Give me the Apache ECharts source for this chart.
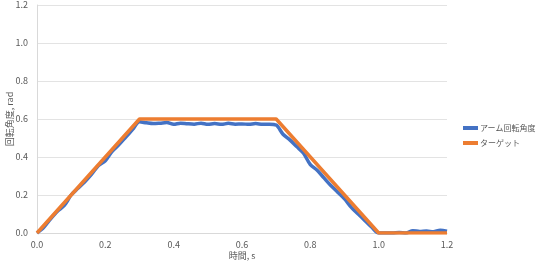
<!DOCTYPE html>
<html><head><meta charset="utf-8">
<script src="https://cdn.jsdelivr.net/npm/echarts@6/dist/echarts.min.js"></script>
<style>html,body{margin:0;padding:0;background:#fff}#c{width:540px;height:265px}</style>
</head><body><div id="c"></div>
<script>
const timeS = [0,0.02,0.04,0.06,0.08,0.10,0.12,0.14,0.16,0.18,0.20,0.22,0.24,0.26,0.28,0.30,0.32,0.34,0.36,0.38,0.40,0.42,0.44,0.46,0.48,0.50,0.52,0.54,0.56,0.58,0.60,0.62,0.64,0.66,0.68,0.70,0.72,0.74,0.76,0.78,0.80,0.82,0.84,0.86,0.88,0.90,0.92,0.94,0.96,0.98,1.00,1.02,1.04,1.06,1.08,1.10,1.12,1.14,1.16,1.18,1.20];
const armAngle = [0.00,0.03,0.075,0.115,0.145,0.20,0.235,0.27,0.31,0.355,0.38,0.43,0.465,0.505,0.545,0.585,0.58,0.576,0.578,0.581,0.572,0.578,0.575,0.573,0.578,0.572,0.576,0.572,0.577,0.573,0.574,0.572,0.576,0.572,0.573,0.568,0.52,0.49,0.455,0.42,0.36,0.33,0.29,0.25,0.215,0.18,0.135,0.10,0.065,0.03,0.00,0.00,0.00,0.003,0.00,0.012,0.008,0.01,0.006,0.015,0.01];
const targetT = [0,0.3,0.7,1.0,1.2];
const targetAngle = [0,0.6,0.6,0,0];
const seriesNames = ['アーム回転角度','ターゲット'];
const yTicks = {min:0,max:1.2,interval:0.2};
const xTicks = {min:0,max:1.2,interval:0.2};

const chart = echarts.init(document.getElementById('c'));
const font = 'Noto Sans CJK JP';
chart.setOption({
  animation:false,
  grid:{left:37,right:93,top:5,bottom:32,containLabel:false,outerBoundsMode:'none'},
  legend:{orient:'vertical',left:463,top:124,padding:0,itemWidth:15,itemHeight:4,itemGap:7,icon:'rect',
    textStyle:{fontSize:8,color:'#595959',fontFamily:font,padding:[0,0,0,-3]},data:seriesNames},
  xAxis:{type:'value',min:xTicks.min,max:xTicks.max,interval:xTicks.interval,
    name:'時間, s',nameLocation:'middle',nameGap:18,nameMoveOverlap:false,nameTextStyle:{fontSize:9,color:'#595959',fontFamily:font},
    axisLine:{lineStyle:{color:'#d9d9d9'}},axisTick:{show:false},splitLine:{show:false},
    axisLabel:{fontSize:9,color:'#595959',fontFamily:font,margin:7,formatter:v=>v.toFixed(1)}},
  yAxis:{type:'value',min:yTicks.min,max:yTicks.max,interval:yTicks.interval,
    name:'回転角度, rad',nameLocation:'middle',nameGap:23,nameMoveOverlap:false,nameTextStyle:{fontSize:9,color:'#595959',fontFamily:font},
    axisLine:{show:true,lineStyle:{color:'#d9d9d9'}},axisTick:{show:false},
    splitLine:{lineStyle:{color:'#e3e3e3'}},
    axisLabel:{fontSize:9,color:'#595959',fontFamily:font,margin:9,formatter:v=>v.toFixed(1)}},
  series:[
    {name:seriesNames[0],type:'line',showSymbol:false,smooth:0.3,data:timeS.map((t,i)=>[t,armAngle[i]]),
      lineStyle:{color:'#4472c4',width:3.5},itemStyle:{color:'#4472c4'},z:2},
    {name:seriesNames[1],type:'line',showSymbol:false,data:targetT.map((t,i)=>[t,targetAngle[i]]),
      lineStyle:{color:'#ed7d31',width:3.5},itemStyle:{color:'#ed7d31'},z:3}
  ]
});
</script></body></html>
